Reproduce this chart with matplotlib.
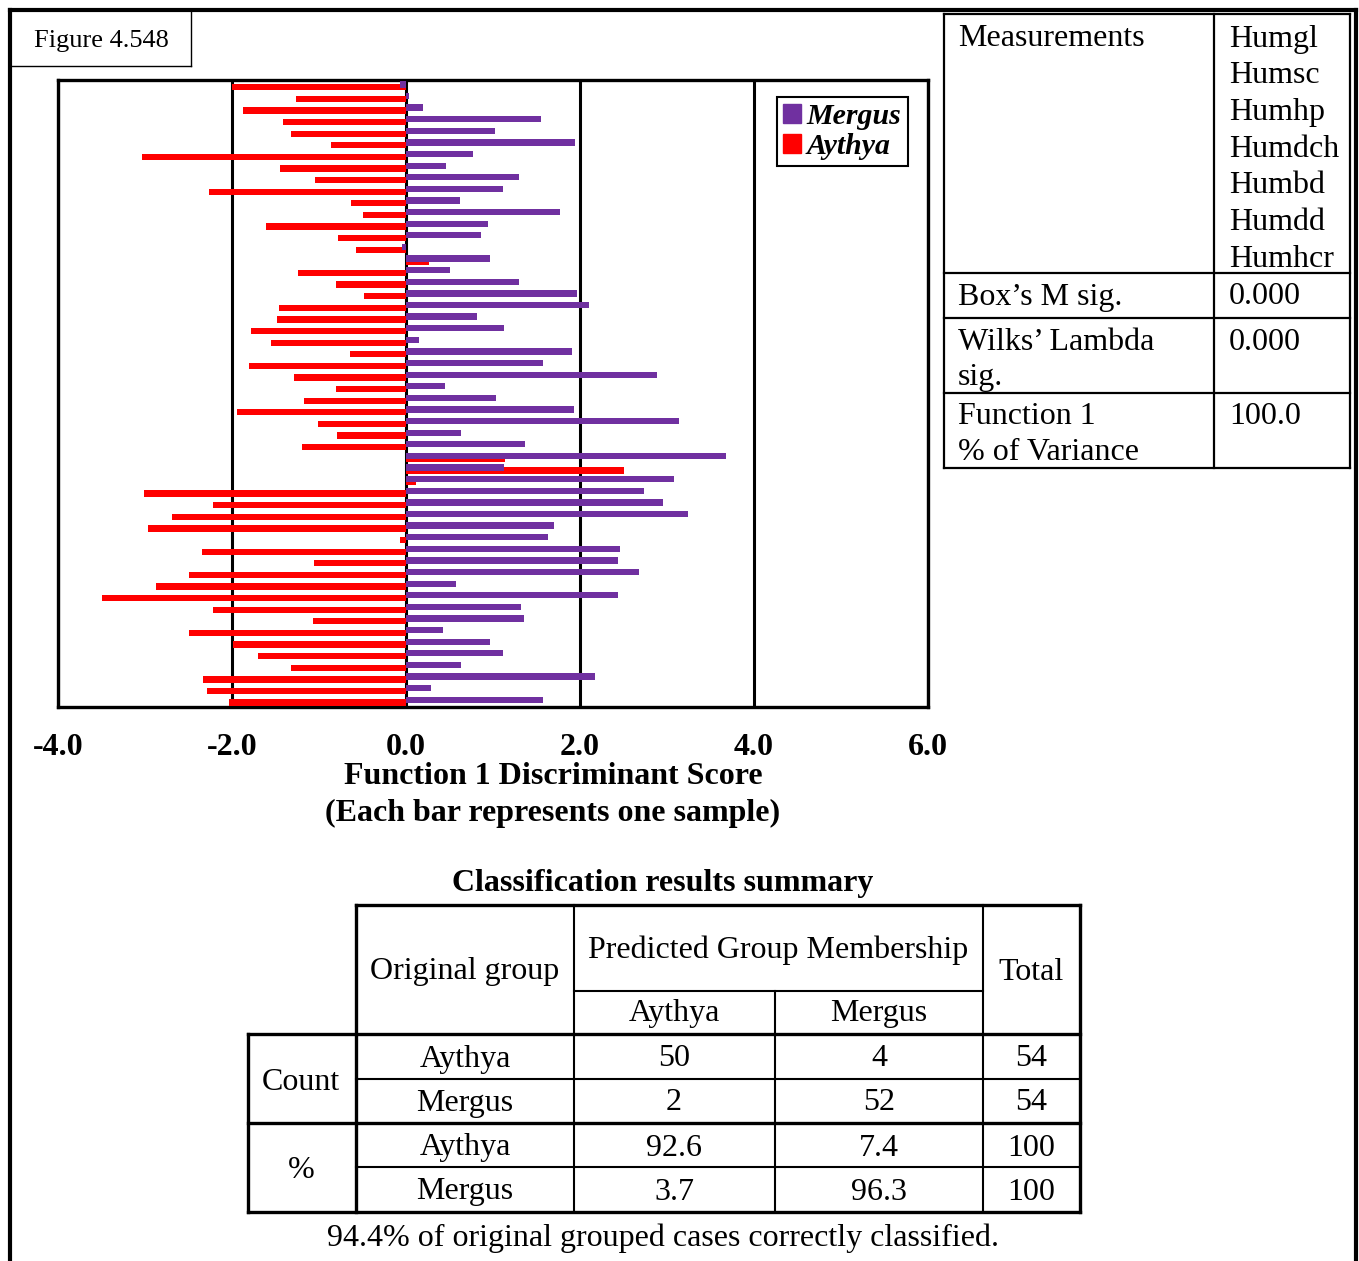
import matplotlib
matplotlib.use("Agg")
import matplotlib.pyplot as plt
from matplotlib.patches import Patch
import numpy as np

W, H = 1359, 1261
SERIF = "Liberation Serif"

# ---------------- data ----------------
aythya = [-2.00, -1.26, -1.87, -1.41, -1.32, -0.86, -3.04, -1.45, -1.05, -2.26, -0.63, -0.49, -1.61,
          -0.78, -0.57, 0.26, -1.24, -0.80, -0.48, -1.46, -1.48, -1.78, -1.55, -0.64, -1.80, -1.29, -0.80,
          -1.17, -1.94, -1.01, -0.79, -1.19, 1.14, 2.50, 0.12, -3.01, -2.22, -2.69, -2.97, -0.07,
          -2.34, -1.06, -2.50, -2.87, -3.50, -2.22, -1.07, -2.50, -1.99, -1.70, -1.32, -2.33, -2.29, -2.04]
mergus = [-0.07, 0.04, 0.19, 1.55, 1.02, 1.94, 0.77, 0.46, 1.30, 1.12, 0.62, 1.77, 0.94,
          0.86, -0.05, 0.97, 0.50, 1.30, 1.97, 2.10, 0.82, 1.13, 0.15, 1.91, 1.58, 2.88, 0.45,
          1.04, 1.93, 3.14, 0.63, 1.37, 3.68, 1.13, 3.08, 2.73, 2.95, 3.24, 1.70, 1.63,
          2.46, 2.44, 2.68, 0.57, 2.44, 1.32, 1.36, 0.43, 0.97, 1.11, 0.63, 2.17, 0.29, 1.58]
series_names = ["Mergus", "Aythya"]
xticks = [-4, -2, 0, 2, 4, 6]
xtick_labels = ["-4.0", "-2.0", "0.0", "2.0", "4.0", "6.0"]
xlabel_lines = ["Function 1 Discriminant Score", "(Each bar represents one sample)"]
figure_label = "Figure 4.548"

measurements = ["Humgl", "Humsc", "Humhp", "Humdch", "Humbd", "Humdd", "Humhcr"]
stats_labels = [["Box\u2019s M sig."], ["Wilks\u2019 Lambda", "sig."], ["Function 1", "% of Variance"]]
stats_values = ["0.000", "0.000", "100.0"]

class_title = "Classification results summary"
class_groups = ["Aythya", "Mergus"]
class_count = [["50", "4", "54"], ["2", "52", "54"]]
class_pct = [["92.6", "7.4", "100"], ["3.7", "96.3", "100"]]
class_footer = "94.4% of original grouped cases correctly classified."

PURPLE = "#7030A0"
RED = "#FF0000"

fig = plt.figure(figsize=(W / 100, H / 100), dpi=100)


def px(x, y, w, h):
    return [x / W, 1 - (y + h) / H, w / W, h / H]


# ---------------- chart ----------------
ax = fig.add_axes(px(58, 80, 870, 627))
n = len(aythya)
rows = np.arange(n) + 0.5
ax.barh(rows + 0.12, aythya, height=0.54, color=RED, zorder=3)
ax.barh(rows - 0.12, mergus, height=0.54, color=PURPLE, zorder=4)
ax.set_xlim(-4, 6)
ax.set_ylim(n, 0)
ax.set_xticks(xticks)
ax.set_xticklabels(xtick_labels, fontfamily=SERIF, fontweight="bold", fontsize=23)
ax.set_yticks([])
ax.tick_params(axis="x", length=0, pad=19)
ax.grid(axis="x", color="black", linewidth=2.2)
ax.set_axisbelow(True)
for s in ax.spines.values():
    s.set_linewidth(2.4)
    s.set_color("black")

handles = [Patch(facecolor=PURPLE, edgecolor=PURPLE), Patch(facecolor=RED, edgecolor=RED)]
leg = fig.legend(handles, series_names, loc="upper left",
                 bbox_to_anchor=(777 / W, 1 - 97 / H), bbox_transform=fig.transFigure,
                 prop=dict(family=SERIF, weight="bold", style="italic", size=21.5),
                 handlelength=0.6, handleheight=0.6, handletextpad=0.2,
                 borderpad=0.2, labelspacing=0.1, borderaxespad=0,
                 fancybox=False, framealpha=1, edgecolor="black")
leg.get_frame().set_linewidth(1.5)

# ---------------- overlay (frames, tables, text) ----------------
ov = fig.add_axes([0, 0, 1, 1], zorder=5)
ov.set_xlim(0, W)
ov.set_ylim(H, 0)
ov.axis("off")
ov.patch.set_alpha(0)


def hline(y, x0, x1, lw=1.5):
    ov.plot([x0, x1], [y, y], color="black", lw=lw, solid_capstyle="projecting")


def vline(x, y0, y1, lw=1.5):
    ov.plot([x, x], [y0, y1], color="black", lw=lw, solid_capstyle="projecting")


def txt(x, y, s, ha="left", size=23, weight="normal"):
    ov.text(x, y + 4, s, ha=ha, va="center", fontfamily=SERIF, fontsize=size, fontweight=weight)


# outer frame
hline(10, 10, 1356, lw=3)
vline(10, 10, H + 5, lw=3)
vline(1356, 10, H + 5, lw=3)

# figure label box
hline(66, 12, 191, lw=1)
vline(191, 12, 66, lw=1)
txt(101, 37, figure_label, ha="center", size=19)

# x label
txt(553, 773, xlabel_lines[0], ha="center", size=23, weight="bold")
txt(553, 809, xlabel_lines[1], ha="center", size=23, weight="bold")

# ---- right table ----
tx = [944, 1214, 1350]
ty = [14, 273, 318, 393, 468]
for y in ty:
    hline(y, tx[0], tx[2], lw=1.6)
for x in tx:
    vline(x, ty[0], ty[-1], lw=1.6)
txt(958, 35, "Measurements")
for i, m in enumerate(measurements):
    txt(1229, 35 + i * 36.7, m)
for i, (lab, val) in enumerate(zip(stats_labels, stats_values)):
    y0 = ty[i + 1] + 20
    for j, line in enumerate(lab):
        txt(958, y0 + j * 36, line)
    txt(1229, y0, val)

# ---- classification table ----
txt(663, 880, class_title, ha="center", size=23, weight="bold")
# lines
hline(905, 356, 1080, lw=2.4)
hline(991, 574, 983, lw=1.5)
vline(356, 905, 1212, lw=2.4)
vline(574, 905, 1212, lw=1.5)
vline(775, 991, 1212, lw=1.5)
vline(983, 905, 1212, lw=1.5)
vline(1080, 905, 1212, lw=2.4)
vline(248, 1034, 1212, lw=2.4)
hline(1034, 248, 1080, lw=2.4)
hline(1079, 356, 1080, lw=1.5)
hline(1123, 248, 1080, lw=2.4)
hline(1167, 356, 1080, lw=1.5)
hline(1212, 248, 1080, lw=2.4)

txt(465, 968, "Original group", ha="center")
txt(778, 946, "Predicted Group Membership", ha="center")
txt(1031, 968, "Total", ha="center")
col_c = [674, 879, 1031]
txt(col_c[0], 1010, class_groups[0], ha="center")
txt(col_c[1], 1010, class_groups[1], ha="center")
txt(301, 1078, "Count", ha="center")
txt(301, 1166, "%", ha="center")
row_y = [1055, 1099, 1144, 1188]
for block, vals in enumerate([class_count, class_pct]):
    for r, g in enumerate(class_groups):
        y = row_y[block * 2 + r]
        txt(465, y, g, ha="center")
        for c, v in enumerate(vals[r]):
            txt(col_c[c], y, v, ha="center")
txt(663, 1234, class_footer, ha="center")

fig.savefig("out.png", dpi=100)
